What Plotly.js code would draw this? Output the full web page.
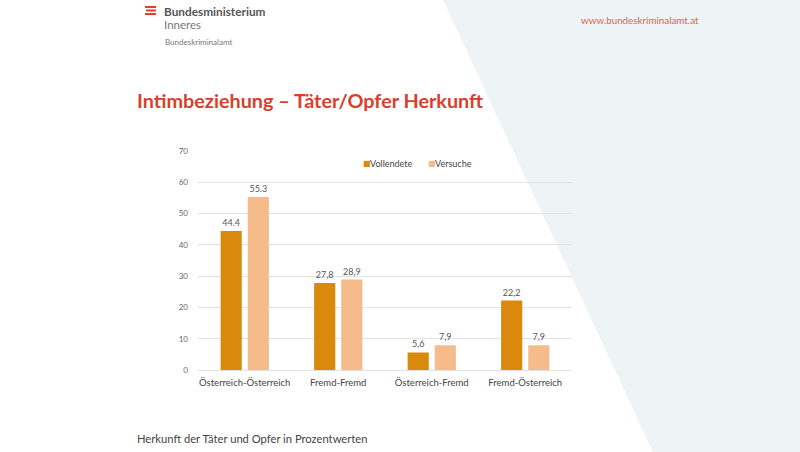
<!DOCTYPE html>
<html>
<head>
<meta charset="utf-8">
<script src="https://cdn.plot.ly/plotly-3.0.1.min.js"></script>
<style>html,body{margin:0;padding:0;background:#fff;}#chart{width:800px;height:452px;}</style>
</head>
<body>
<div id="chart"></div>
<script>
// ---- data ----
const categories = ["Österreich-Österreich", "Fremd-Fremd", "Österreich-Fremd", "Fremd-Österreich"];
const seriesNames = ["Vollendete", "Versuche"];
const vollendete = [44.4, 27.8, 5.6, 22.2];
const versuche = [55.3, 28.9, 7.9, 7.9];
const vollendeteLabels = ["44.4", "27,8", "5,6", "22,2"];
const versucheLabels = ["55.3", "28,9", "7,9", "7,9"];
const yTicks = [0, 10, 20, 30, 40, 50, 60, 70];

// ---- geometry helpers (pixel -> paper) ----
const W = 800, H = 452;
const M = {l: 198, r: 228, t: 151, b: 82};
const PW = W - M.l - M.r, PH = H - M.t - M.b;
const px = x => (x - M.l) / PW;
const py = y => (H - M.b - y) / PH;

const font = "Lato, 'Open Sans', sans-serif";
const colors = ["#d98a0c", "#f5bb8b"];

const traces = [
  {type: "bar", name: seriesNames[0], x: categories, y: vollendete, text: vollendeteLabels,
   textposition: "outside", cliponaxis: false, textfont: {size: 9, color: "#555", family: font},
   marker: {color: colors[0]}, hoverinfo: "skip"},
  {type: "bar", name: seriesNames[1], x: categories, y: versuche, text: versucheLabels,
   textposition: "outside", cliponaxis: false, textfont: {size: 9, color: "#555", family: font},
   marker: {color: colors[1]}, hoverinfo: "skip"}
];

const legendAnn = [];
const legendX = [361, 426];
seriesNames.forEach((n, i) => {
  legendAnn.push({text: "■", xref: "paper", yref: "paper", x: px(legendX[i]), y: py(163),
    xanchor: "left", yanchor: "middle", showarrow: false, font: {size: 8, color: colors[i], family: "DejaVu Sans"}});
  legendAnn.push({text: n, xref: "paper", yref: "paper", x: px(legendX[i] + 7), y: py(163),
    xanchor: "left", yanchor: "middle", showarrow: false, font: {size: 9, color: "#444", family: font}});
});

const layout = {
  width: W, height: H,
  margin: M,
  paper_bgcolor: "#ffffff",
  plot_bgcolor: "rgba(0,0,0,0)",
  font: {family: font, color: "#555"},
  barmode: "group",
  bargap: 0.42,
  bargroupgap: 0.22,
  showlegend: false,
  xaxis: {type: "category", showgrid: false, zeroline: false, showline: false, ticks: "",
          ticklabelstandoff: 5,
          tickfont: {size: 9.5, color: "#444", family: font}, fixedrange: true},
  yaxis: {range: [0, 70], tickvals: yTicks, ticktext: yTicks.map(String), showgrid: true,
          gridcolor: "#e2e2e2", gridwidth: 1, zeroline: true, zerolinecolor: "#e2e2e2",
          showline: false, ticks: "", ticklabelstandoff: 9,
          tickfont: {size: 8, color: "#666", family: font}, fixedrange: true},
  shapes: [
    {type: "path", xref: "paper", yref: "paper", layer: "below",
     path: `M ${px(443)} ${py(0)} L ${px(800)} ${py(0)} L ${px(800)} ${py(452)} L ${px(653)} ${py(452)} Z`,
     fillcolor: "#eef3f5", line: {width: 0}},
    {type: "rect", xref: "paper", yref: "paper", x0: px(145), x1: px(156), y0: py(6), y1: py(8),
     fillcolor: "#e0402a", line: {width: 0}},
    {type: "rect", xref: "paper", yref: "paper", x0: px(146), x1: px(156), y0: py(9.5), y1: py(11.5),
     fillcolor: "#e0402a", line: {width: 0}},
    {type: "rect", xref: "paper", yref: "paper", x0: px(145), x1: px(156), y0: py(13), y1: py(15),
     fillcolor: "#e0402a", line: {width: 0}}
  ],
  annotations: [
    {text: "<b>Intimbeziehung – Täter/Opfer Herkunft</b>", xref: "paper", yref: "paper",
     x: px(135), y: py(100), xanchor: "left", yanchor: "middle", showarrow: false,
     font: {size: 19.8, color: "#d9402c", family: font}},
    {text: "<b>Bundesministerium</b>", xref: "paper", yref: "paper", x: px(162), y: py(11),
     xanchor: "left", yanchor: "middle", showarrow: false, font: {size: 11.8, color: "#555", family: font}},
    {text: "Inneres", xref: "paper", yref: "paper", x: px(162), y: py(25),
     xanchor: "left", yanchor: "middle", showarrow: false, font: {size: 11.5, color: "#777", family: font}},
    {text: "Bundeskriminalamt", xref: "paper", yref: "paper", x: px(163), y: py(42),
     xanchor: "left", yanchor: "middle", showarrow: false, font: {size: 8, color: "#777", family: font}},
    {text: "www.bundeskriminalamt.at", xref: "paper", yref: "paper", x: px(579), y: py(20),
     xanchor: "left", yanchor: "middle", showarrow: false, font: {size: 9.8, color: "#e0634f", family: font}},
    {text: "Herkunft der Täter und Opfer in Prozentwerten", xref: "paper", yref: "paper",
     x: px(135), y: py(438), xanchor: "left", yanchor: "middle", showarrow: false,
     font: {size: 11.2, color: "#444", family: font}}
  ].concat(legendAnn)
};

Plotly.newPlot("chart", traces, layout, {displayModeBar: false, staticPlot: true});
</script>
</body>
</html>
